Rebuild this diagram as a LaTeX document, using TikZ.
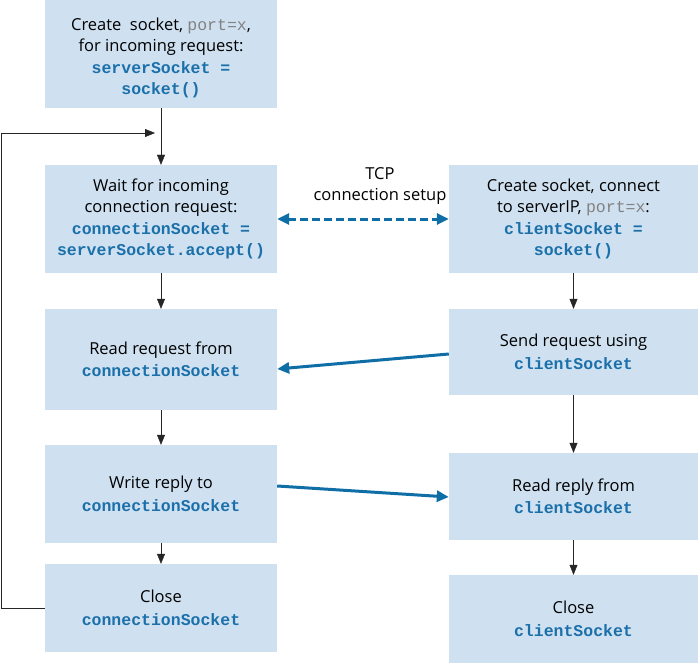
\documentclass[tikz,border=0pt]{standalone}
\usepackage{fontspec}
\setmainfont{Open Sans}
\newfontfamily\codefont{Liberation Mono}
\usetikzlibrary{positioning}
\usetikzlibrary{arrows.meta}
\definecolor{boxblue}{RGB}{207,225,241}
\definecolor{codeblue}{RGB}{28,112,170}
\definecolor{arrowblue}{RGB}{16,110,166}
\definecolor{portgray}{RGB}{130,130,130}
\newcommand{\cd}[1]{{\codefont\bfseries\color{codeblue}\fontsize{16.5}{20.5}\selectfont#1}}
\newcommand{\portx}[1]{{\codefont\color{portgray}#1}}

\begin{document}
\begin{tikzpicture}[x=1pt,y=-1pt,
	box/.style={fill=boxblue, align=center, inner sep=0pt, font=\fontsize{16.5}{20.5}\selectfont},
	lbox/.style={box, minimum width=232pt},
	rbox/.style={box, minimum width=249pt},
	flow/.style={-{Triangle[length=10pt,width=8pt]}, thin, black!85},
	msg/.style={-{Triangle[length=12pt,width=11pt]}, line width=3pt, arrowblue},
	>=latex
	]
	\useasboundingbox (0,0) rectangle (698,663);
	
	% Server-Seite
	\node[lbox, minimum height=108pt] (srvsock) at (161,54)
		{};
	\node[align=center, inner sep=0pt, font=\fontsize{16.5}{20.5}\selectfont] (srvtext) at (161,58)
		{Create\ \ socket, \portx{port=x},\\ for incoming request:\\[2pt] \cd{serverSocket =}\\ \cd{socket()}};
	\node[lbox, minimum height=108pt] (waitconn) at (161,219)
		{Wait for incoming\\ connection request:\\[2pt] \cd{connectionSocket =}\\ \cd{serverSocket.accept()}};
	\node[lbox, minimum height=101pt] (readreq) at (161,359.5)
		{Read request from\\[2pt] \cd{connectionSocket}};
	\node[lbox, minimum height=98pt] (writerep) at (161,494)
		{Write reply to\\[2pt] \cd{connectionSocket}};
	\node[lbox, minimum height=88pt] (closeconn) at (161,608)
		{Close\\[2pt] \cd{connectionSocket}};
	
	% Client-Seite
	\node[rbox, minimum height=108pt] (clisock) at (573.5,219)
		{Create socket, connect\\ to serverIP, \portx{port=x}:\\[2pt] \cd{clientSocket =}\\ \cd{socket()}};
	\node[rbox, minimum height=86pt] (sendreq) at (573.5,352)
		{Send request using\\[2pt] \cd{clientSocket}};
	\node[rbox, minimum height=87pt] (readrep) at (573.5,496.5)
		{Read reply from\\[2pt] \cd{clientSocket}};
	\node[rbox, minimum height=88pt] (closecli) at (573.5,619)
		{Close\\[2pt] \cd{clientSocket}};
	
	% Ablauf
	\draw[flow] (srvsock) -- (waitconn);
	\draw[flow] (waitconn) -- (readreq);
	\draw[flow] (readreq) -- (writerep);
	\draw[flow] (writerep) -- (closeconn);
	\draw[flow] (clisock.south) -- (sendreq.north);
	\draw[flow] (sendreq.south) -- (readrep.north);
	\draw[flow] (readrep.south) -- (closecli.north);
	
	% Schleife
	\coordinate (loopin) at (155,133);
	\draw[flow] (closeconn.west) -- (1,608) -- (1,133) -- (loopin);
	
	% TCP-Verbindungsaufbau
	\node[align=center, inner sep=0pt, font=\fontsize{16.5}{20.5}\selectfont] (tcp) at (380,186) {TCP\\ connection setup};
	\draw[msg, {Triangle[length=12pt,width=11pt]}-{Triangle[length=12pt,width=11pt]}, dash pattern=on 8pt off 4pt]
		(waitconn) -- (clisock);
	
	% Nachrichten
	\draw[msg] (sendreq.west |- 0,354) -- (readreq.east |- 0,369);
	\draw[msg] (writerep.east |- 0,486) -- (readrep.west |- 0,497);
\end{tikzpicture}
\end{document}
